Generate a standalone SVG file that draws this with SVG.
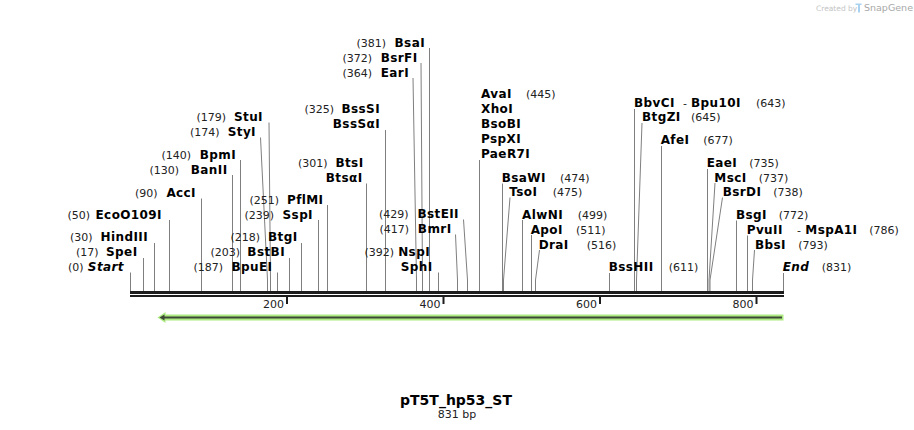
<svg xmlns="http://www.w3.org/2000/svg" width="914" height="430" viewBox="0 0 914 430">
<style>
text{font-family:"DejaVu Sans",Verdana,sans-serif}
.n{font-size:11px;fill:#222}
.b{font-size:12px;font-weight:bold;fill:#000;letter-spacing:0.4px}
.i{font-style:italic}
.e{text-anchor:end}
.m{text-anchor:middle}
#connectors polyline,#connectors line{stroke:#7f7f7f;stroke-width:1;fill:none}
.bar{fill:#1c1c1c}
</style>
<rect width="914" height="430" fill="#fff"/>
<g id="watermark">
<text x="816" y="10.5" style="font-size:7.5px;fill:#c4c4c4">Created by</text>
<path d="M855.5 3.5 h6 v1.5 h-1.5 v7.5 h-2 v-7.5 h-2.5 z" fill="#a9d2f0"/>
<text x="864" y="11" style="font-size:9.5px;fill:#a8a8a8">SnapGene</text>
</g>
<g id="connectors">
<line x1="130.5" y1="272.5" x2="130.5" y2="291"/>
<line x1="143.5" y1="258" x2="143.5" y2="291"/>
<line x1="154.5" y1="243" x2="154.5" y2="291"/>
<line x1="169.5" y1="220" x2="169.5" y2="291"/>
<line x1="201.5" y1="198.5" x2="201.5" y2="291"/>
<line x1="232.5" y1="175" x2="232.5" y2="291"/>
<line x1="240.5" y1="160" x2="240.5" y2="291"/>
<polyline points="260.5,137.5 267.5,280 267.5,291"/>
<polyline points="269,122.5 270.5,280 270.5,291"/>
<line x1="277.5" y1="272.5" x2="277.5" y2="291"/>
<line x1="289.5" y1="258" x2="289.5" y2="291"/>
<line x1="301.5" y1="243" x2="301.5" y2="291"/>
<line x1="318.5" y1="220" x2="318.5" y2="291"/>
<line x1="327.5" y1="205" x2="327.5" y2="291"/>
<line x1="366.5" y1="183.5" x2="366.5" y2="291"/>
<line x1="385.5" y1="130" x2="385.5" y2="291"/>
<polyline points="413,78 416.5,280 416.5,291"/>
<polyline points="421,63 422.5,280 422.5,291"/>
<line x1="429.5" y1="48" x2="429.5" y2="291"/>
<line x1="438.5" y1="272.5" x2="438.5" y2="291"/>
<polyline points="455.5,234.5 457.5,280 457.5,291"/>
<polyline points="463.5,219.5 467.5,280 467.5,291"/>
<line x1="479.5" y1="160" x2="479.5" y2="291"/>
<line x1="502.5" y1="183.5" x2="502.5" y2="291"/>
<polyline points="510,197.5 503.5,280 503.5,291"/>
<line x1="522.5" y1="220" x2="522.5" y2="291"/>
<line x1="531.5" y1="235" x2="531.5" y2="291"/>
<polyline points="539.5,250 535.5,280 535.5,291"/>
<line x1="609.5" y1="273" x2="609.5" y2="291"/>
<line x1="634.5" y1="109" x2="634.5" y2="291"/>
<polyline points="642,123 636.5,280 636.5,291"/>
<line x1="661.5" y1="146" x2="661.5" y2="291"/>
<line x1="707.5" y1="169" x2="707.5" y2="291"/>
<polyline points="715,183 709,280 709,291"/>
<polyline points="722.5,197.5 710,280 710,291"/>
<line x1="736.5" y1="220.5" x2="736.5" y2="291"/>
<line x1="747.5" y1="235.5" x2="747.5" y2="291"/>
<polyline points="754.5,250 752.5,280 752.5,291"/>
<line x1="783.5" y1="273" x2="783.5" y2="291"/>
</g>
<g id="sequence">
<rect class="bar" x="130" y="291" width="654" height="3"/>
<rect class="bar" x="130" y="295" width="654" height="2"/>
<rect class="bar" x="286" y="297" width="2" height="7"/>
<rect class="bar" x="442.5" y="297" width="2" height="7"/>
<rect class="bar" x="599" y="297" width="2" height="7"/>
<rect class="bar" x="755.5" y="297" width="2" height="7"/>
<text class="n e" x="284" y="307.5">200</text>
<text class="n e" x="440.5" y="307.5">400</text>
<text class="n e" x="597" y="307.5">600</text>
<text class="n e" x="753.5" y="307.5">800</text>
</g>
<g id="feature">
<path d="M157.5 317.5 L165.5 312 V314.5 H783.5 V320.5 H165.5 V323 Z" fill="#aeea82"/>
<line x1="163" y1="317.5" x2="782" y2="317.5" stroke="#3e4836" stroke-width="2"/>
<path d="M159.5 317.5 L164.5 314.5 V320.5 Z" fill="#3e4836"/>
</g>
<g id="site-start"><text class="n e" x="83.5" y="271">(0)</text><text class="b i e" x="124" y="271">Start</text></g>
<g id="site-SpeI"><text class="n e" x="98.5" y="256">(17)</text><text class="b e" x="137.5" y="256">SpeI</text></g>
<g id="site-HindIII"><text class="n e" x="92.5" y="241">(30)</text><text class="b e" x="148" y="241">HindIII</text></g>
<g id="site-EcoO109I"><text class="n e" x="90" y="218.5">(50)</text><text class="b e" x="162" y="218.5">EcoO109I</text></g>
<g id="site-AccI"><text class="n e" x="157.5" y="196.5">(90)</text><text class="b e" x="196" y="196.5">AccI</text></g>
<g id="site-BanII"><text class="n e" x="179" y="173.5">(130)</text><text class="b e" x="227.5" y="173.5">BanII</text></g>
<g id="site-BpmI"><text class="n e" x="191" y="158.5">(140)</text><text class="b e" x="236" y="158.5">BpmI</text></g>
<g id="site-StyI"><text class="n e" x="219.5" y="135.5">(174)</text><text class="b e" x="256" y="135.5">StyI</text></g>
<g id="site-StuI"><text class="n e" x="226" y="120.5">(179)</text><text class="b e" x="263" y="120.5">StuI</text></g>
<g id="site-BpuEI"><text class="n e" x="223" y="271">(187)</text><text class="b e" x="272.5" y="271">BpuEI</text></g>
<g id="site-BstBI"><text class="n e" x="240" y="256">(203)</text><text class="b e" x="285" y="256">BstBI</text></g>
<g id="site-BtgI"><text class="n e" x="260" y="241">(218)</text><text class="b e" x="297.5" y="241">BtgI</text></g>
<g id="site-SspI"><text class="n e" x="274" y="218.5">(239)</text><text class="b e" x="313" y="218.5">SspI</text></g>
<g id="site-PflMI"><text class="n e" x="279" y="204">(251)</text><text class="b e" x="323.5" y="204">PflMI</text></g>
<g id="site-BtsI"><text class="n e" x="327.5" y="166.5">(301)</text><text class="b e" x="363.5" y="166.5">BtsI</text><text class="b e" x="362.5" y="181.5">BtsαI</text></g>
<g id="site-BssSI"><text class="n e" x="334" y="113.3">(325)</text><text class="b e" x="380" y="113.3">BssSI</text><text class="b e" x="380" y="128.3">BssSαI</text></g>
<g id="site-EarI"><text class="n e" x="372" y="76.5">(364)</text><text class="b e" x="409" y="76.5">EarI</text></g>
<g id="site-BsrFI"><text class="n e" x="372" y="61.5">(372)</text><text class="b e" x="417.5" y="61.5">BsrFI</text></g>
<g id="site-BsaI"><text class="n e" x="386" y="46.5">(381)</text><text class="b e" x="425" y="46.5">BsaI</text></g>
<g id="site-NspI"><text class="n e" x="394" y="256">(392)</text><text class="b e" x="430" y="256">NspI</text><text class="b e" x="432.5" y="271">SphI</text></g>
<g id="site-BmrI"><text class="n e" x="409" y="233.3">(417)</text><text class="b e" x="451.5" y="233.3">BmrI</text></g>
<g id="site-BstEII"><text class="n e" x="408.5" y="218.3">(429)</text><text class="b e" x="459" y="218.3">BstEII</text></g>
<g id="site-AvaI"><text class="b" x="481" y="98.3">AvaI</text><text class="n" x="526" y="98.3">(445)</text><text class="b" x="481" y="113.3">XhoI</text><text class="b" x="481" y="128.3">BsoBI</text><text class="b" x="481" y="143.3">PspXI</text><text class="b" x="481" y="158.3">PaeR7I</text></g>
<g id="site-BsaWI"><text class="b" x="501.7" y="181.5">BsaWI</text><text class="n" x="560" y="181.5">(474)</text></g>
<g id="site-TsoI"><text class="b" x="509.3" y="196">TsoI</text><text class="n" x="552.7" y="196">(475)</text></g>
<g id="site-AlwNI"><text class="b" x="522" y="218.5">AlwNI</text><text class="n" x="577.7" y="218.5">(499)</text></g>
<g id="site-ApoI"><text class="b" x="530.7" y="233.5">ApoI</text><text class="n" x="576" y="233.5">(511)</text></g>
<g id="site-DraI"><text class="b" x="538.7" y="248.5">DraI</text><text class="n" x="586.7" y="248.5">(516)</text></g>
<g id="site-BssHII"><text class="b" x="608.7" y="271.3">BssHII</text><text class="n" x="668.7" y="271.3">(611)</text></g>
<g id="site-BbvCI"><text class="b" x="634" y="106.5">BbvCI</text><text class="n" x="683" y="106.5">-</text><text class="b" x="691" y="106.5">Bpu10I</text><text class="n" x="756" y="106.5">(643)</text></g>
<g id="site-BtgZI"><text class="b" x="642" y="121">BtgZI</text><text class="n" x="691" y="121">(645)</text></g>
<g id="site-AfeI"><text class="b" x="660.7" y="144">AfeI</text><text class="n" x="703.3" y="144">(677)</text></g>
<g id="site-EaeI"><text class="b" x="706.7" y="166.7">EaeI</text><text class="n" x="749.3" y="166.7">(735)</text></g>
<g id="site-MscI"><text class="b" x="714.3" y="181.5">MscI</text><text class="n" x="758.7" y="181.5">(737)</text></g>
<g id="site-BsrDI"><text class="b" x="722.7" y="196">BsrDI</text><text class="n" x="773.3" y="196">(738)</text></g>
<g id="site-BsgI"><text class="b" x="736" y="218.5">BsgI</text><text class="n" x="778.7" y="218.5">(772)</text></g>
<g id="site-PvuII"><text class="b" x="746.7" y="233.5">PvuII</text><text class="n" x="797" y="233.5">-</text><text class="b" x="805.3" y="233.5">MspA1I</text><text class="n" x="869.3" y="233.5">(786)</text></g>
<g id="site-BbsI"><text class="b" x="755" y="248.5">BbsI</text><text class="n" x="798.3" y="248.5">(793)</text></g>
<g id="site-end"><text class="b i" x="782.7" y="271.3">End</text><text class="n" x="821.7" y="271.3">(831)</text></g>
<g id="title">
<text class="m" x="456" y="404.5" style="font-size:14px;font-weight:bold;fill:#000">pT5T_hp53_ST</text>
<text class="n m" x="457" y="417.5">831 bp</text>
</g>
</svg>
